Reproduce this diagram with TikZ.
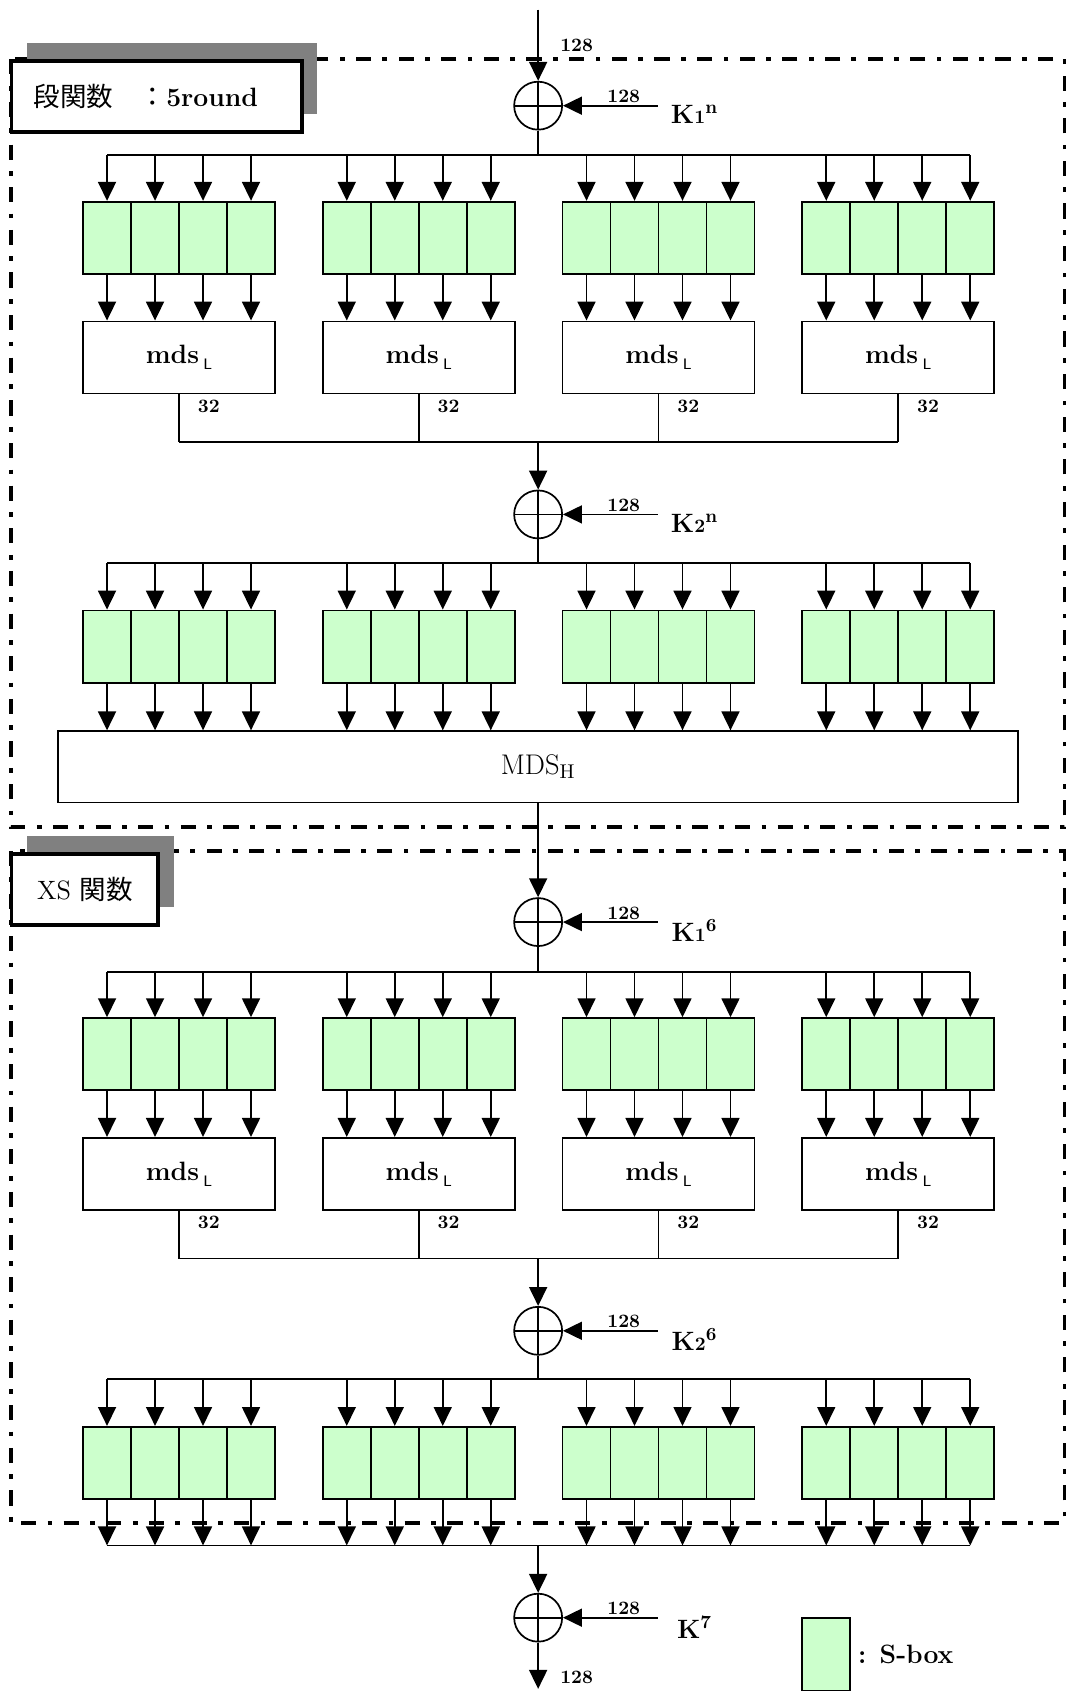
\documentclass[tikz,border=0pt]{standalone}
\usepackage{fontspec}
\newfontfamily\jpfont{Noto Sans CJK JP}
\usepackage{xcolor}
\definecolor{sboxgreen}{RGB}{204, 255, 204}
\definecolor{shadowgray}{RGB}{128, 128, 128}
\usetikzlibrary{arrows.meta,positioning,calc,shadows}

\newcommand{\keyidx}[1]{{\fontsize{10}{12}\selectfont #1}}

\begin{document}
\begin{tikzpicture}[x=0.02cm, y=-0.02cm, line width=0.9pt,
    arr/.style={-{Triangle[length=10pt,width=9.5pt]}},
    sbox/.style={draw, fill=sboxgreen, minimum width=0.89cm, minimum height=1.34cm, inner sep=0pt},
    mdsbox/.style={draw, fill=white, minimum width=3.56cm, minimum height=1.34cm, inner sep=0pt,
        font=\fontsize{14}{16}\selectfont\bfseries},
    xorc/.style={circle, draw, minimum size=0.89cm, inner sep=0pt,
        path picture={\draw (path picture bounding box.west) -- (path picture bounding box.east)
            (path picture bounding box.north) -- (path picture bounding box.south);}},
    bits/.style={font=\fontsize{10}{12}\selectfont\bfseries, inner sep=1pt},
    keylbl/.style={font=\fontsize{14}{16}\selectfont\bfseries},
    frame/.style={line width=2pt, dash pattern=on 8pt off 6pt on 2.5pt off 6pt},
    titlebox/.style={draw, line width=2pt, fill=white, anchor=north west, minimum height=1.32cm,
        font=\fontsize{14}{17}\selectfont,
        general shadow={fill=shadowgray, shadow xshift=0.29cm, shadow yshift=0.34cm}}
]
    \useasboundingbox (0,0) rectangle (988,1568);

    % Frames of the two parts
    \draw[frame] (10,55) rectangle (987,767);
    \draw[frame] (10,789) rectangle (987,1412);

    \node[titlebox, minimum width=5.38cm] (t1) at (9,55) {{\jpfont 段関数　：}\textbf{5round}\kern0.4cm};
    \node[titlebox, minimum width=2.72cm] (t2) at (9,790) {XS {\jpfont 関数}};

    % Two rounds with the same layout
    \foreach \s/\dy/\r in {a/0/n, b/757/6} {
    \begin{scope}[shift={(0,\dy)}]
        % First key addition
        \node[xorc] (x1\s) at (499,98) {};
        \coordinate (k1\s) at (610,98);
        \draw[arr] (k1\s) -- (x1\s.east) node[bits, above, pos=0.36] {128};
        \node[keylbl] (K1\s) at (644,106) {K\keyidx{1}\textsuperscript{\r}};
        \coordinate (b1\s) at (499,144);
        \draw (x1\s.south) -- (b1\s);

        % S-boxes and mds_L
        \foreach \g in {0,...,3} {
            \node[mdsbox] (m\s-\g) at ({166+222.3*\g},331.5)
                {mds\,\raisebox{-0.5ex}{\sffamily\mdseries\fontsize{8}{9}\selectfont L}};
            \foreach \c in {1,...,4} {
                \node[sbox] (s1\s-\g-\c) at ({77+222.3*\g+44.5*(\c-0.5)},220.5) {};
                \draw[arr] (b1\s -| s1\s-\g-\c) -- (s1\s-\g-\c.north);
                \draw[arr] (s1\s-\g-\c.south) -- (s1\s-\g-\c.south |- m\s-\g.north);
            }
        }
        \draw (b1\s -| s1\s-0-1) -- (b1\s -| s1\s-3-4);

        \coordinate (b2\s) at (499,410);
        \foreach \g in {0,...,3} {
            \draw (m\s-\g.south) -- (m\s-\g.south |- b2\s);
            \node[bits, anchor=west] at ([shift={(15,11)}]m\s-\g.south) {32};
        }
        \draw (b2\s -| m\s-0) -- (b2\s -| m\s-3);

        % Second key addition
        \node[xorc] (x2\s) at (499,477) {};
        \draw[arr] (b2\s) -- (x2\s.north);
        \coordinate (k2\s) at (610,477);
        \draw[arr] (k2\s) -- (x2\s.east) node[bits, above, pos=0.36] {128};
        \node[keylbl] (K2\s) at (644,485) {K\keyidx{2}\textsuperscript{\r}};
        \coordinate (b3\s) at (499,522);
        \draw (x2\s.south) -- (b3\s);

        \foreach \g in {0,...,3} {
            \foreach \c in {1,...,4} {
                \node[sbox] (s2\s-\g-\c) at ({77+222.3*\g+44.5*(\c-0.5)},599.5) {};
                \draw[arr] (b3\s -| s2\s-\g-\c) -- (s2\s-\g-\c.north);
            }
        }
        \draw (b3\s -| s2\s-0-1) -- (b3\s -| s2\s-3-4);
    \end{scope}
    }

    % Input
    \coordinate (in) at (499,9);
    \draw[arr] (in) -- (x1a.north);
    \node[bits, anchor=west] at (517,42) {128};

    % MDS_H
    \node[draw, fill=white, minimum width=17.8cm, minimum height=1.32cm,
        font=\fontsize{15}{18}\selectfont] (mdsh) at (499,711) {MDS\textsubscript{H}};
    \foreach \g in {0,...,3}
        \foreach \c in {1,...,4}
            \draw[arr] (s2a-\g-\c.south) -- (s2a-\g-\c.south |- mdsh.north);
    \draw[arr] (mdsh.south) -- (x1b.north);

    % Output part
    \coordinate (b4) at (499,1433);
    \foreach \g in {0,...,3}
        \foreach \c in {1,...,4}
            \draw[arr] (s2b-\g-\c.south) -- (s2b-\g-\c.south |- b4);
    \draw (b4 -| s2b-0-1) -- (b4 -| s2b-3-4);

    \node[xorc] (x3) at (499,1500) {};
    \draw[arr] (b4) -- (x3.north);
    \coordinate (k3) at (610,1500);
    \draw[arr] (k3) -- (x3.east) node[bits, above, pos=0.36] {128};
    \node[keylbl] (K3) at (644,1509) {K\textsuperscript{7}};
    \coordinate (out) at (499,1566);
    \draw[arr] (x3.south) -- (out);
    \node[bits, anchor=west] at (517,1555) {128};

    % Legend
    \node[sbox, minimum height=1.36cm] (leg) at (766,1534) {};
    \node[keylbl, anchor=west] at (leg.east) {: S-box};
\end{tikzpicture}
\end{document}
